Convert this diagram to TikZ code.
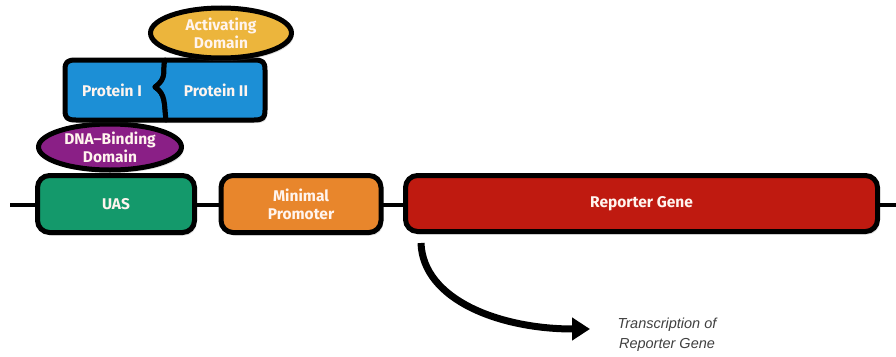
\documentclass[tikz,border=0pt]{standalone}
\usepackage{fontspec}
\setmainfont{Fira Sans}
\newfontfamily\arialfont{Liberation Sans}
\usetikzlibrary{shapes.geometric,arrows.meta,shadows}
\definecolor{uasgreen}{HTML}{14996B}
\definecolor{promorange}{HTML}{E8862C}
\definecolor{repred}{HTML}{BF1A10}
\definecolor{dbdpurple}{HTML}{8A1F86}
\definecolor{protblue}{HTML}{1C8FD6}
\definecolor{actyellow}{HTML}{ECB53C}
\definecolor{labeltext}{HTML}{FFF4EE}
\tikzset{
  elem/.style={draw=black, line width=5pt, rounded corners=12pt, text=labeltext,
    font=\fontsize{15.5}{18}\selectfont\bfseries, align=center, inner sep=0pt,
    drop shadow={opacity=0.25, shadow xshift=2pt, shadow yshift=-3pt}},
  oval/.style={ellipse, draw=black, line width=5pt, text=labeltext,
    font=\fontsize{15.5}{18}\selectfont\bfseries, align=center, inner sep=0pt,
    drop shadow={opacity=0.25, shadow xshift=2pt, shadow yshift=-3pt}},
  dna/.style={line width=3.2pt, black},
  protpath/.style={draw=black, line width=5pt, fill=protblue, line join=round,
    drop shadow={opacity=0.25, shadow xshift=2pt, shadow yshift=-3pt}},
  ptext/.style={text=labeltext, font=\fontsize{15.5}{18}\selectfont\bfseries},
}
\begin{document}
\begin{tikzpicture}[x=1pt,y=-1pt]
\useasboundingbox (0,0) rectangle (896,356);
% DNA backbone
\coordinate (dnaL) at (10,205);
\coordinate (dnaR) at (896,205);
\draw[dna] (dnaL) -- (dnaR);
% elements
\node[elem, fill=uasgreen, minimum width=157pt, minimum height=57pt] (uas) at (116,204) {UAS};
\node[elem, fill=promorange, minimum width=160pt, minimum height=57pt] (prom) at (301,204) {Minimal\\Promoter};
\node[elem, fill=repred, minimum width=472pt, minimum height=56pt] (rep) at (641.5,203.5) {Reporter Gene};
% DNA-binding domain
\node[oval, fill=dbdpurple, minimum width=143pt, minimum height=46pt] (dbd) at (110,147) {DNA--Binding\\Domain};
% proteins
\path[protpath] (165,60) .. controls (162,70) and (168,78) .. (155,87)
   .. controls (166,94) and (164,104) .. (166,120)
   -- (76,120) .. controls (67,120) and (65,118) .. (65,110)
   -- (65,70) .. controls (65,62) and (67,60) .. (76,60) -- cycle;
\path[protpath] (165,60) .. controls (162,70) and (168,78) .. (155,87)
   .. controls (166,94) and (164,104) .. (166,120)
   -- (254,120) .. controls (263,120) and (265,118) .. (265,110)
   -- (265,70) .. controls (265,62) and (263,60) .. (254,60) -- cycle;
\node[ptext] (p1) at (112,90) {Protein I};
\node[ptext] (p2) at (216,90) {Protein II};
% activating domain
\node[oval, fill=actyellow, minimum width=141pt, minimum height=50pt] (act) at (221,33) {Activating\\Domain};
% transcription arrow
\node[font=\arialfont\itshape\fontsize{14.5}{20}\selectfont, text=black!75, align=center] (tx) at (667,335) {Transcription of\\Reporter Gene};
\coordinate (txstart) at (421,243);
\draw[line width=7pt, -{Triangle[length=18pt,width=22pt]}] (txstart) .. controls (423,300) and (500,329) .. (590,329);
\end{tikzpicture}
\end{document}
